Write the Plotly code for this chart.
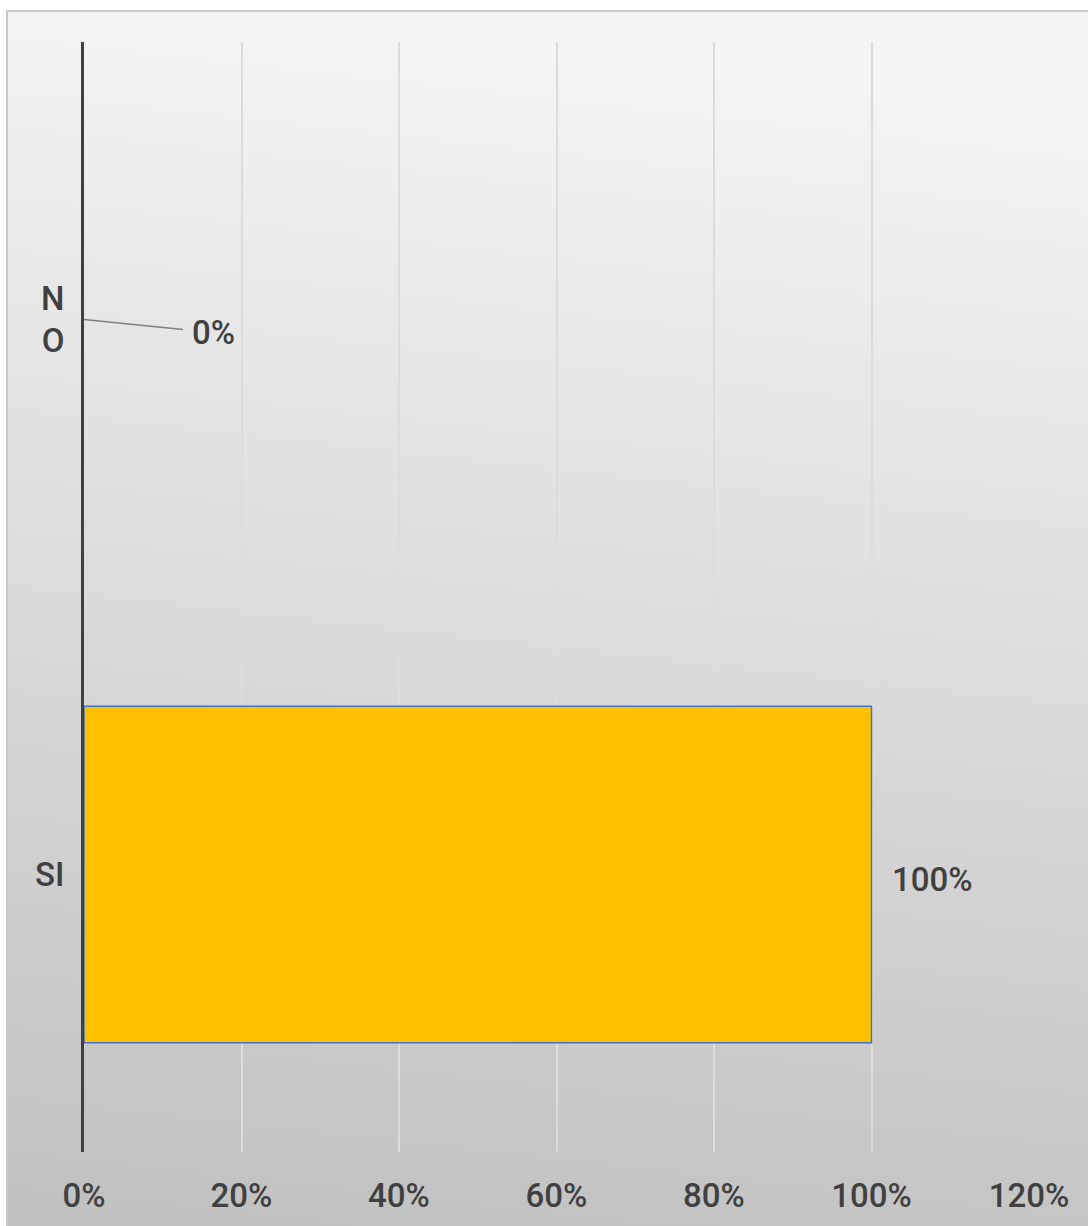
import base64
import plotly.graph_objects as go

categories = ["SI", "NO"]
tick_text = ["SI", "N<br>O"]
values = [1.0, 0.0]
x_ticks = [0, 0.2, 0.4, 0.6, 0.8, 1.0, 1.2]
x_tick_labels = ["0%", "20%", "40%", "60%", "80%", "100%", "120%"]

W, H = 1088, 1226
L, R, T, B = 84, 59, 42, 74
pw, ph = W - L - R, H - T - B

font_family = "Roboto, 'Noto Sans', sans-serif"
text_color = "#404040"
tfont = dict(size=33, color=text_color, family=font_family, weight=500)

svg = ('<svg xmlns="http://www.w3.org/2000/svg" width="100" height="100" preserveAspectRatio="none">'
       '<defs><linearGradient id="g" x1="0.1" y1="0" x2="0" y2="1">'
       '<stop offset="0" stop-color="#f4f4f4"/><stop offset="1" stop-color="#bfbfbf"/>'
       '</linearGradient></defs><rect width="100" height="100" fill="url(#g)"/></svg>')
src = "data:image/svg+xml;base64," + base64.b64encode(svg.encode()).decode()

def px_x(p):
    return (p - L) / pw

def px_y(p):
    return (H - B - p) / ph

fig = go.Figure()
fig.add_trace(go.Bar(
    y=categories, x=values, orientation="h",
    marker=dict(color="#FFC000",
                line=dict(color="#4472C4", width=[1.5 if v > 0 else 0 for v in values])),
    hoverinfo="skip",
))

annotations = []
for c, v in zip(categories, values):
    label = f"{v:.0%}"
    if v > 0:
        annotations.append(dict(x=v, y=c, text=label, showarrow=False, xanchor="left",
                                xshift=18, yshift=-5, font=tfont))
    else:
        annotations.append(dict(x=v, y=c, text=label, showarrow=True, arrowhead=0,
                                arrowwidth=1.5, arrowcolor="#7f7f7f", ax=129, ay=13, standoff=0,
                                borderpad=8, font=tfont))

fig.update_layout(
    width=W, height=H,
    margin=dict(l=L, r=R, t=T, b=B, pad=0, autoexpand=False),
    paper_bgcolor="white",
    plot_bgcolor="rgba(0,0,0,0)",
    showlegend=False,
    bargap=0.394,
    font=tfont,
    xaxis=dict(range=[0, 1.2], tickvals=x_ticks, ticktext=x_tick_labels, automargin=False,
               showgrid=True, gridcolor="#dcdcdc", gridwidth=1.5, zeroline=False,
               showline=False, ticks="", ticklabelstandoff=21, tickfont=tfont),
    yaxis=dict(categoryorder="array", categoryarray=categories, automargin=False,
               tickvals=categories, ticktext=tick_text, range=[-0.5, 1.5],
               showgrid=False, zeroline=False, showline=True, linecolor="#404040",
               linewidth=3, ticks="", ticklabelstandoff=10, tickfont=tfont),
    annotations=annotations,
    images=[dict(source=src, xref="paper", yref="paper", x=px_x(7), y=px_y(11),
                 sizex=px_x(W + 20) - px_x(7), sizey=px_y(11) - px_y(H + 20),
                 sizing="stretch", xanchor="left", yanchor="top", layer="below")],
    shapes=[dict(type="rect", xref="paper", yref="paper", x0=px_x(7), x1=px_x(W + 20),
                 y0=px_y(H + 20), y1=px_y(11), line=dict(color="#c8c8c8", width=2),
                 fillcolor="rgba(0,0,0,0)", layer="below")],
)

fig.write_html("out.html")
